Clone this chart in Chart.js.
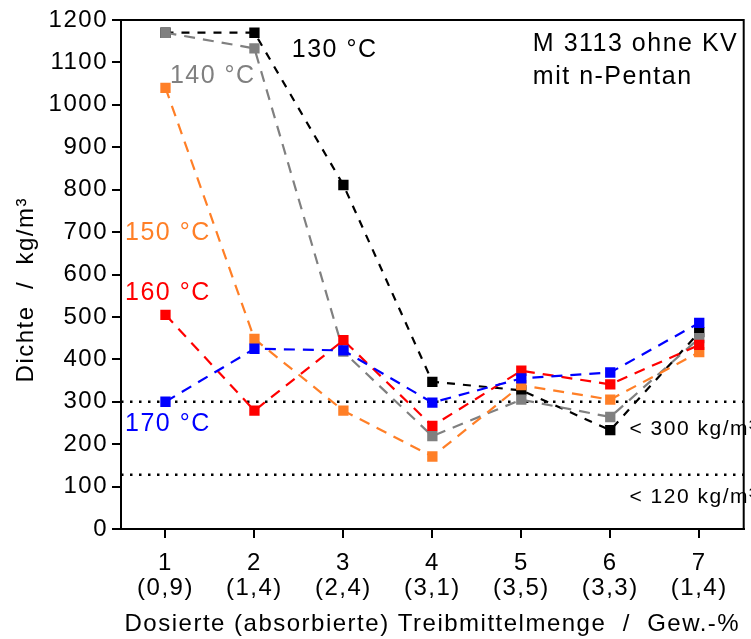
<!DOCTYPE html>
<html>
<head>
<meta charset="utf-8">
<script src="https://cdn.jsdelivr.net/npm/chart.js@4"></script>
<style>
  html, body { margin: 0; background: #fff; }
  #wrap { width: 751px; height: 639px; }
</style>
</head>
<body>
<div id="wrap"><canvas id="densityChart"></canvas></div>
<script>
// categories on the x axis and the amounts below them
const categories = [1, 2, 3, 4, 5, 6, 7];
const amounts = ['(0,9)', '(1,4)', '(2,4)', '(3,1)', '(3,5)', '(3,3)', '(1,4)'];

// density in kg/m³ per temperature
const dens130 = [1170, 1170, 811, 347, 327, 233, 464];
const dens140 = [1170, 1133, 418, 219, 305, 264, 450];
const dens150 = [1040, 448, 279, 171, 339, 305, 417];
const dens160 = [505, 279, 445, 243, 373, 341, 434];
const dens170 = [300, 425, 421, 298, 355, 369, 486];

// dotted limit lines
const limits = [300, 128];

const FONT = "'Liberation Sans', Arial, sans-serif";
const ORANGE = '#ff7f27';

const toPoints = arr => arr.map((v, i) => ({ x: categories[i], y: v }));

function series(label, data, color, dash) {
  return {
    label: label,
    data: toPoints(data),
    borderColor: color,
    backgroundColor: color,
    borderWidth: 2.2,
    borderDash: dash,
    pointStyle: 'rect',
    pointRadius: 7.3,
    pointBorderWidth: 0,
    fill: false,
    tension: 0
  };
}

function limitLine(v) {
  return {
    label: 'limit ' + v,
    data: [{ x: 0.5, y: v }, { x: 7.5, y: v }],
    borderColor: '#000',
    borderWidth: 2.5,
    borderDash: [2.5, 6.5],
    pointRadius: 0,
    fill: false
  };
}

// labels drawn inside the plot, placed in data coordinates
const notes = [
  { text: '130 °C', x: 2.42, y: 1112, color: '#000', size: 25 },
  { text: '140 °C', x: 1.05, y: 1052, color: '#808080', size: 25 },
  { text: '150 °C', x: 0.545, y: 681, color: ORANGE, size: 25 },
  { text: '160 °C', x: 0.545, y: 540, color: '#ff0000', size: 25 },
  { text: '170 °C', x: 0.545, y: 231, color: '#0000ff', size: 25 },
  { text: 'M 3113 ohne KV', x: 5.13, y: 1126, color: '#000', size: 25 },
  { text: 'mit n-Pentan', x: 5.13, y: 1050, color: '#000', size: 25 },
  { text: '< 300 kg/m³', x: 6.216, y: 221, color: '#000', size: 21 },
  { text: '< 120 kg/m³', x: 6.216, y: 62, color: '#000', size: 21 }
];

const frameAndNotes = {
  id: 'frameAndNotes',
  beforeDraw(chart) {
    // the reference font runs wider than Arial
    chart.ctx.letterSpacing = '1.5px';
  },
  afterDatasetsDraw(chart) {
    const { ctx, chartArea, scales } = chart;
    ctx.save();
    ctx.strokeStyle = '#000';
    ctx.lineWidth = 2;
    ctx.strokeRect(chartArea.left, chartArea.top, chartArea.right - chartArea.left, chartArea.bottom - chartArea.top);
    ctx.textBaseline = 'alphabetic';
    ctx.textAlign = 'left';
    notes.forEach(n => {
      ctx.font = n.size + 'px ' + FONT;
      ctx.fillStyle = n.color;
      ctx.fillText(n.text, scales.x.getPixelForValue(n.x), scales.y.getPixelForValue(n.y));
    });
    // y axis title
    ctx.translate(26, scales.y.getPixelForValue(564));
    ctx.rotate(-Math.PI / 2);
    ctx.textAlign = 'center';
    ctx.textBaseline = 'middle';
    ctx.font = '24px ' + FONT;
    ctx.fillStyle = '#000';
    ctx.fillText('Dichte  /  kg/m³', 0, 0);
    ctx.restore();
  }
};

new Chart(document.getElementById('densityChart'), {
  type: 'line',
  data: {
    datasets: [
      series('170 °C', dens170, '#0000ff', [11, 8]),
      series('160 °C', dens160, '#ff0000', [11, 8]),
      series('150 °C', dens150, ORANGE, [11, 8]),
      series('140 °C', dens140, '#808080', [11, 8]),
      series('130 °C', dens130, '#000000', [8, 8]),
      limitLine(limits[0]),
      limitLine(limits[1])
    ]
  },
  options: {
    responsive: true,
    maintainAspectRatio: false,
    animation: false,
    layout: { padding: { top: 20, right: 3, left: 0, bottom: 0 } },
    plugins: {
      legend: { display: false },
      tooltip: { enabled: false }
    },
    scales: {
      x: {
        type: 'linear',
        min: 0.5,
        max: 7.5,
        afterBuildTicks: s => { s.ticks = categories.map(v => ({ value: v })); },
        afterFit: s => { s.height = 110; },
        ticks: {
          autoSkip: false,
          maxRotation: 0,
          padding: 13,
          color: '#000',
          font: { family: FONT, size: 24, lineHeight: 1.05 },
          callback: (v, i) => [String(categories[i]), amounts[i]]
        },
        grid: { drawOnChartArea: false, drawTicks: true, tickLength: 9, color: '#000', lineWidth: 2 },
        border: { color: '#000', width: 2 },
        title: {
          display: true,
          text: 'Dosierte (absorbierte) Treibmittelmenge  /  Gew.-%',
          color: '#000',
          font: { family: FONT, size: 24 },
          padding: { top: 0, bottom: 0 }
        }
      },
      y: {
        min: 0,
        max: 1200,
        afterFit: s => { s.width = 121; },
        ticks: {
          stepSize: 100,
          padding: 4,
          color: '#000',
          font: { family: FONT, size: 24 },
          callback: v => String(v)
        },
        grid: { drawOnChartArea: false, drawTicks: true, tickLength: 9, color: '#000', lineWidth: 2 },
        border: { color: '#000', width: 2 }
      }
    }
  },
  plugins: [frameAndNotes]
});
</script>
</body>
</html>
